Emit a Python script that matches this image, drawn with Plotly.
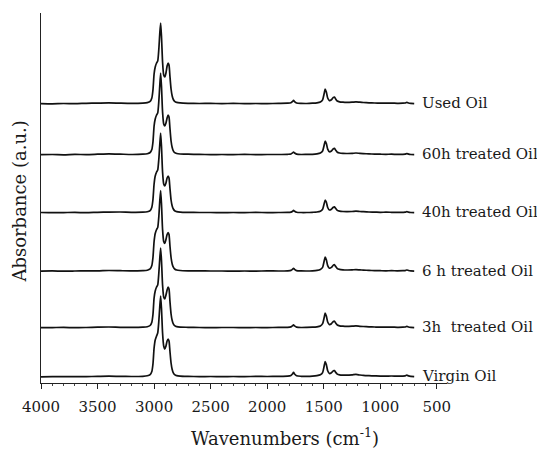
import plotly.graph_objects as go

# Wavenumber grid (cm-1)
WAVENUMBERS = [4000, 3900, 3800, 3700, 3600, 3500, 3400, 3300, 3200, 3100,
               3060, 3035, 3020, 3010, 3000,
               2990, 2978, 2968, 2958, 2950,
               2942, 2934, 2925, 2915, 2905,
               2895, 2885, 2876, 2868, 2860,
               2850, 2840, 2830, 2818, 2800,
               2770, 2700, 2600, 2500, 2400,
               2300, 2200, 2100, 2000, 1900,
               1820, 1790, 1775, 1767, 1758,
               1740, 1700, 1650, 1600, 1560,
               1530, 1510, 1497, 1487, 1477,
               1465, 1450, 1432, 1415, 1405,
               1394, 1380, 1360, 1330, 1300,
               1250, 1215, 1180, 1150, 1100,
               1050, 1000, 950, 900, 850,
               800, 780, 765, 750, 730,
               700]

# Absorbance above each spectrum's own baseline (a.u.)
USED_OIL = [0.4, 0.2, 0.5, 0.3, 0.7, 0.9, 1.1, 0.8, 0.6, 0.9,
            1.4, 2.6, 6, 14, 30,
            37, 41, 43, 55, 70,
            81, 66, 42, 29, 27,
            31, 38, 41, 39, 28,
            15, 8, 4.5, 2.6, 1.6,
            1.1, 0.7, 0.5, 0.6, 0.4,
            0.6, 0.4, 0.5, 0.4, 0.6,
            0.8, 1.2, 2.6, 3.6, 2.4,
            1.0, 0.6, 0.5, 0.8, 1.2,
            2.0, 4.2, 10, 15, 12,
            6, 3.4, 4.2, 6.6, 7,
            5, 3, 2.2, 1.8, 1.6,
            1.8, 2.2, 1.8, 1.5, 1.2,
            1.0, 0.9, 0.8, 0.9, 0.7,
            0.8, 1.0, 1.7, 1.0, 0.6,
            0.3]
OIL_60H = [0.3, 0.5, 0.2, 0.6, 0.4, 0.8, 1.2, 0.9, 0.5, 0.8,
           1.3, 2.5, 5.5, 13, 29,
           36, 40, 42, 54, 69,
           82, 67, 43, 31, 29,
           32, 37, 40, 38, 27,
           14, 7.5, 4.2, 2.4, 1.5,
           1.0, 0.8, 0.6, 0.4, 0.5,
           0.4, 0.6, 0.4, 0.5, 0.5,
           0.7, 1.0, 2.2, 3.0, 2.0,
           0.9, 0.5, 0.6, 0.7, 1.1,
           1.9, 4.0, 9.5, 14, 11.5,
           5.8, 3.2, 4.0, 6.2, 6.6,
           4.8, 2.8, 2.0, 1.6, 1.5,
           1.6, 2.0, 1.6, 1.4, 1.1,
           0.9, 0.8, 0.7, 0.8, 0.6,
           0.7, 0.9, 1.4, 0.9, 0.5,
           0.3]
OIL_40H = [0.5, 0.3, 0.4, 0.6, 0.3, 0.7, 0.9, 1.0, 0.7, 0.8,
           1.2, 2.4, 5.8, 13.5, 29,
           37, 41, 43, 54, 68,
           80, 65, 41, 29, 27,
           30, 35, 37, 35, 25,
           13, 7, 4.0, 2.3, 1.4,
           0.9, 0.6, 0.5, 0.5, 0.4,
           0.5, 0.4, 0.6, 0.4, 0.5,
           0.6, 0.9, 1.8, 2.6, 1.8,
           0.8, 0.5, 0.5, 0.7, 1.0,
           1.8, 3.8, 9, 13, 11,
           5.5, 3.0, 3.8, 5.8, 6.2,
           4.5, 2.6, 1.9, 1.5, 1.4,
           1.5, 1.8, 1.5, 1.3, 1.0,
           0.9, 0.7, 0.8, 0.7, 0.6,
           0.7, 0.8, 1.3, 0.8, 0.5,
           0.3]
OIL_6H = [0.4, 0.6, 0.3, 0.5, 0.7, 0.6, 1.0, 0.8, 0.6, 0.9,
          1.3, 2.6, 6, 14, 30,
          38, 42, 44, 55, 70,
          81, 66, 42, 30, 28,
          32, 37, 39, 37, 26,
          14, 7.5, 4.3, 2.5, 1.5,
          1.0, 0.7, 0.6, 0.5, 0.5,
          0.4, 0.5, 0.4, 0.6, 0.5,
          0.7, 1.1, 2.4, 3.2, 2.2,
          0.9, 0.6, 0.5, 0.7, 1.1,
          2.0, 4.1, 10, 14.5, 11.8,
          5.9, 3.3, 4.1, 6.4, 6.8,
          4.9, 2.9, 2.1, 1.7, 1.5,
          1.6, 1.9, 1.6, 1.4, 1.1,
          0.9, 0.8, 0.7, 0.8, 0.7,
          0.8, 0.9, 1.5, 1.0, 0.6,
          0.4]
OIL_3H = [0.3, 0.4, 0.6, 0.3, 0.5, 0.8, 1.0, 0.7, 0.6, 0.8,
          1.2, 2.5, 5.8, 13.5, 30,
          37, 41, 43, 55, 69,
          80, 66, 43, 31, 29,
          33, 38, 41, 39, 27,
          14, 7.5, 4.2, 2.4, 1.4,
          0.9, 0.7, 0.5, 0.4, 0.5,
          0.5, 0.4, 0.5, 0.4, 0.6,
          0.7, 1.1, 2.3, 3.2, 2.1,
          0.9, 0.5, 0.6, 0.8, 1.2,
          2.0, 4.3, 10, 15, 12,
          6, 3.4, 4.3, 6.5, 6.8,
          4.9, 3.0, 2.2, 1.8, 1.6,
          1.8, 2.1, 1.7, 1.5, 1.2,
          1.0, 0.8, 0.8, 0.9, 0.7,
          0.8, 1.0, 1.6, 1.0, 0.6,
          0.3]
VIRGIN_OIL = [0.2, 0.4, 0.3, 0.5, 0.4, 0.6, 0.8, 0.6, 0.5, 0.7,
              1.2, 2.4, 5.5, 13, 29,
              37, 41, 44, 56, 70,
              81, 67, 44, 31, 28,
              31, 36, 38, 36, 26,
              14, 7.5, 4.2, 2.4, 1.4,
              0.9, 0.6, 0.4, 0.5, 0.4,
              0.5, 0.4, 0.6, 0.5, 0.6,
              0.8, 1.4, 3.2, 4.6, 3.0,
              1.2, 0.7, 0.6, 0.8, 1.3,
              2.2, 4.4, 10.5, 15.5, 12.5,
              6.2, 3.5, 4.2, 6.2, 6.4,
              4.6, 2.9, 2.2, 1.9, 1.8,
              2.1, 2.6, 2.0, 1.6, 1.3,
              1.1, 0.9, 0.9, 1.0, 0.8,
              0.9, 1.1, 1.8, 1.1, 0.6,
              0.3]

SERIES_NAMES = ["Used Oil", "60h treated Oil", "40h treated Oil",
                "6 h treated Oil", "3h  treated Oil", "Virgin Oil"]
SERIES_VALUES = [USED_OIL, OIL_60H, OIL_40H, OIL_6H, OIL_3H, VIRGIN_OIL]
STACK_OFFSETS = [279, 228, 170, 111.5, 55, 6]

X_TICKS = [4000, 3500, 3000, 2500, 2000, 1500, 1000, 500]

SERIF = "DejaVu Serif"
INK = "#1a1a1a"

fig = go.Figure()
for name, vals, off in zip(SERIES_NAMES, SERIES_VALUES, STACK_OFFSETS):
    fig.add_trace(go.Scatter(
        x=WAVENUMBERS, y=[v + off for v in vals], mode="lines", name=name,
        line=dict(color="#111111", width=1.7, shape="spline", smoothing=0.6),
        showlegend=False, hoverinfo="skip"))
    fig.add_annotation(x=645, y=off + 1, xref="x", yref="y",
                       text=name.replace("  ", "&nbsp; "),
                       showarrow=False, xanchor="left", yanchor="middle",
                       font=dict(family=SERIF, size=15, color=INK))

fig.add_annotation(x=0.601, y=-0.147, xref="paper", yref="paper",
                   text="Wavenumbers (cm<sup>-1</sup>)", showarrow=False,
                   xanchor="center", yanchor="middle",
                   font=dict(family=SERIF, size=18, color=INK))
fig.add_annotation(x=-0.052, y=0.49, xref="paper", yref="paper",
                   text="Absorbance (a.u.)", showarrow=False, textangle=-90,
                   xanchor="center", yanchor="middle",
                   font=dict(family=SERIF, size=18, color=INK))

fig.update_layout(
    width=537, height=455,
    margin=dict(l=41, r=90, t=13, b=72),
    plot_bgcolor="white", paper_bgcolor="white",
    font=dict(family=SERIF, color=INK),
    xaxis=dict(range=[4000, 410], tickvals=X_TICKS, ticks="outside", ticklen=5,
               tickcolor="#222222", showline=True, linecolor="#222222", linewidth=1,
               showgrid=False, zeroline=False, automargin=False,
               ticklabelstandoff=5,
               minor=dict(dtick=100, ticks="outside", ticklen=2, tickcolor="#444444"),
               tickfont=dict(family=SERIF, size=15, color=INK)),
    yaxis=dict(range=[0, 370], showline=True, linecolor="#222222", linewidth=1,
               showticklabels=False, ticks="", showgrid=False, zeroline=False,
               automargin=False),
)

fig.write_html("out.html", config={"displayModeBar": False, "staticPlot": True},
               post_script="document.body.style.margin='0px';document.body.style.overflow='hidden';")
